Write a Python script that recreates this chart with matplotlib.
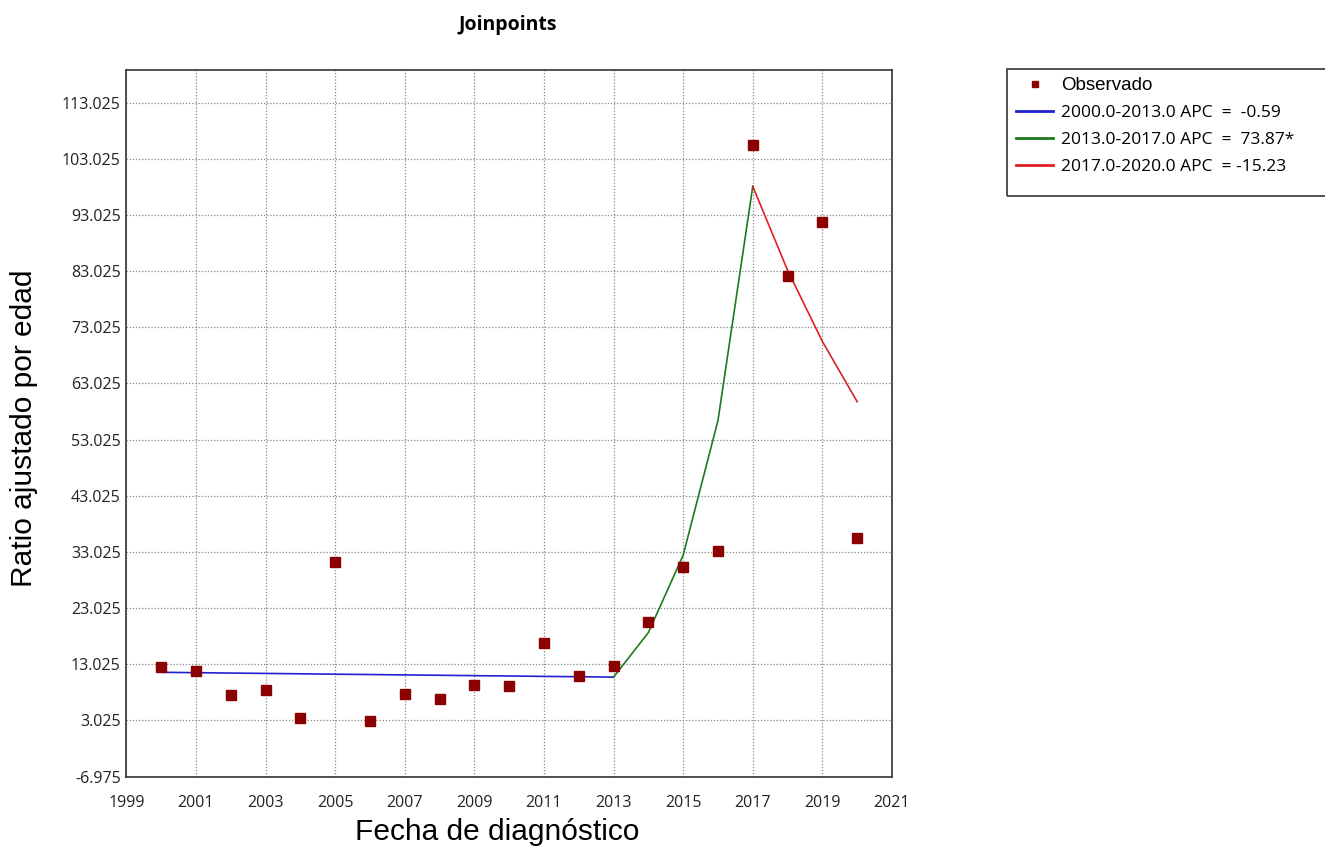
import matplotlib.pyplot as plt
from matplotlib.patches import Rectangle

# -------------------------------
# Data
# -------------------------------
years = [2000, 2001, 2002, 2003, 2004, 2005, 2006, 2007, 2008, 2009, 2010,
         2011, 2012, 2013, 2014, 2015, 2016, 2017, 2018, 2019, 2020]
observed = [12.5, 11.8, 7.6, 8.4, 3.4, 31.3, 3.0, 7.8, 6.8, 9.4, 9.1,
            16.8, 10.9, 12.7, 20.5, 30.4, 33.2, 105.5, 82.1, 91.7, 35.6]

seg1_years = [2000, 2001, 2002, 2003, 2004, 2005, 2006, 2007, 2008, 2009,
              2010, 2011, 2012, 2013]
seg1_fit = [11.60, 11.53, 11.46, 11.40, 11.33, 11.26, 11.20, 11.13, 11.07,
            11.00, 10.94, 10.87, 10.81, 10.74]
seg2_years = [2013, 2014, 2015, 2016, 2017]
seg2_fit = [10.74, 18.67, 32.46, 56.44, 98.13]
seg3_years = [2017, 2018, 2019, 2020]
seg3_fit = [98.13, 83.18, 70.51, 59.78]

labels = ["Observado",
          "2000.0-2013.0 APC  =  -0.59",
          "2013.0-2017.0 APC  =  73.87*",
          "2017.0-2020.0 APC  = -15.23"]

x_ticks = list(range(1999, 2022, 2))
y_ticks = [-6.975 + 10 * i for i in range(13)]

# -------------------------------
# Figure
# -------------------------------
W, H = 1325, 856
fig = plt.figure(figsize=(W / 100, H / 100), dpi=100)
ax = fig.add_axes([126.3 / W, 1 - 776.6 / H, (892 - 126.3) / W, (776.6 - 70) / H])

ax.plot(years, observed, linestyle="none", marker="s", markersize=6.5,
        color="#8b0000", label=labels[0], zorder=4)
ax.plot(seg1_years, seg1_fit, color="#2020d0", linewidth=1.2, label=labels[1], zorder=3)
ax.plot(seg2_years, seg2_fit, color="#1e7a1e", linewidth=1.2, label=labels[2], zorder=3)
ax.plot(seg3_years, seg3_fit, color="#e02020", linewidth=1.2, label=labels[3], zorder=3)

ax.set_xlim(1999, 2021)
ax.set_ylim(-6.975, 118.85)
ax.set_xticks(x_ticks)
ax.set_yticks(y_ticks)
ax.set_yticklabels([f"{v:.3f}" for v in y_ticks])
ax.tick_params(axis="both", length=0, labelsize=11.5, labelcolor="#222222")
ax.tick_params(axis="x", pad=13)
ax.tick_params(axis="y", pad=4)
for lab in ax.get_xticklabels() + ax.get_yticklabels():
    lab.set_family("Open Sans")

ax.grid(True, linestyle=(0, (1, 1.5)), color="#888888", linewidth=0.9)
for sp in ax.spines.values():
    sp.set_color("#333333")
    sp.set_linewidth(1.2)

fig.text(508 / W, 1 - 25 / H, "Joinpoints", ha="center", va="center",
         fontsize=14, fontweight="bold", family="Open Sans")
fig.text(24 / W, 1 - 428 / H, "Ratio ajustado por edad", rotation=90, ha="center",
         va="center", fontsize=21.5, family="Liberation Sans")
fig.text(497 / W, 1 - 832 / H, "Fecha de diagnóstico", ha="center", va="center",
         fontsize=21.5, family="Liberation Sans")

# legend frame drawn separately (reference box is taller than its rows)
fig.patches.append(Rectangle((1007 / W, 1 - 196 / H), 330 / W, 127 / H,
                             transform=fig.transFigure, fill=False,
                             edgecolor="#333333", linewidth=1.2))
leg = fig.legend(loc="upper left", bbox_to_anchor=(1013 / W, 1 - 74 / H),
                 frameon=False, handlelength=2.1, handletextpad=0.45,
                 borderpad=0.2, borderaxespad=0, labelspacing=0.62,
                 prop={"family": "Open Sans", "size": 12.5})
leg.legend_handles[0].set_markersize(5)
for h in leg.legend_handles[1:]:
    h.set_linewidth(2)
leg.get_texts()[0].set_family("Liberation Sans")
leg.get_texts()[0].set_fontsize(13.5)

fig.savefig("out.png", dpi=100)
